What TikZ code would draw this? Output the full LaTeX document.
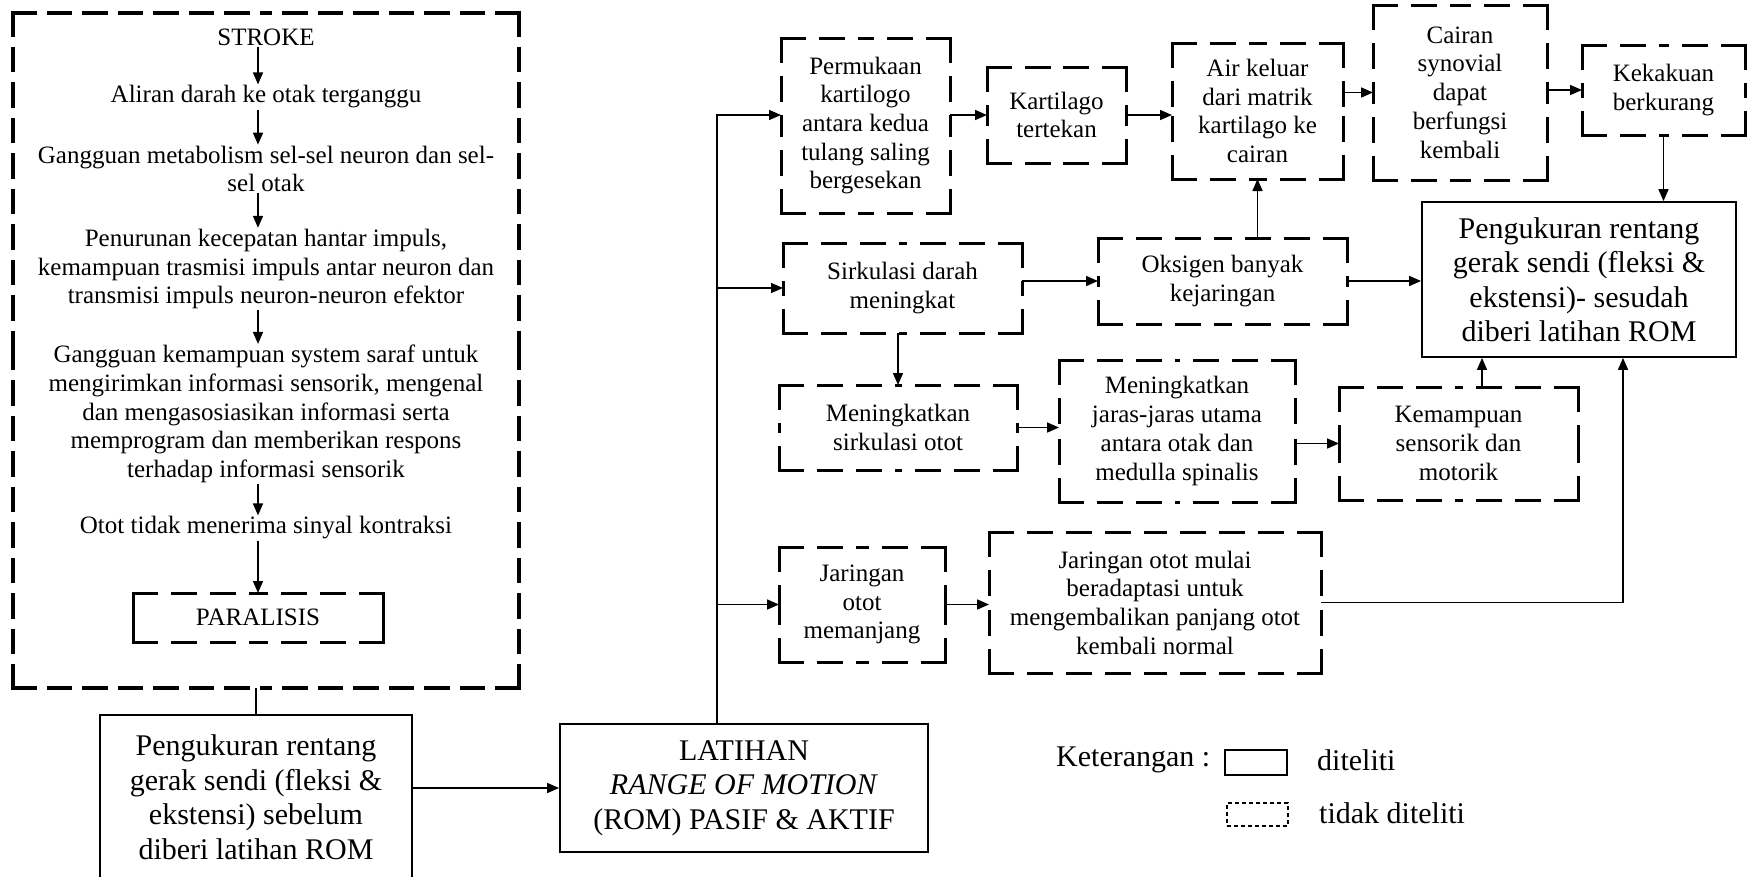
\documentclass[tikz,border=0pt]{standalone}
\usepackage{fontspec}
\setmainfont{Liberation Serif}
\usetikzlibrary{arrows.meta}
\tikzset{
  sm/.style={font=\fontsize{25}{28.7}\selectfont, align=center, inner sep=1pt},
  lg/.style={font=\fontsize{30}{34.5}\selectfont, align=center, inner sep=1pt},
  dbox/.style={sm, outer sep=0pt},
  dsty/.style={line width=3pt, dash pattern=on 23pt off 16pt, line cap=rect},
  bsty/.style={line width=3.5pt, dash pattern=on 22pt off 13.5pt, line cap=rect},
  sbox/.style={lg, draw, line width=1.8pt},
  conn/.style={draw, line width=1.6pt},
  arr/.style={conn, -{Triangle[length=12pt,width=10pt]}}
}
\begin{document}
\begin{tikzpicture}[x=1pt,y=-1pt]
\useasboundingbox (0,0) rectangle (1751,876);
\fill[white] (0,0) rectangle (1751,876);
% left container
\node[dbox, minimum width=506pt, minimum height=675pt, inner sep=0pt] (big) at (266,350.5) {};
\node[sm] (stroke) at (266,37) {STROKE};
\node[sm] (aliran) at (266,97) {Aliran darah ke otak terganggu};
\node[sm] (metab) at (266,169) {Gangguan metabolism sel-sel neuron dan sel-\\sel otak};
\node[sm] (penur) at (266,269) {Penurunan kecepatan hantar impuls,\\kemampuan trasmisi impuls antar neuron dan\\transmisi impuls neuron-neuron efektor};
\node[sm] (gangk) at (266,414) {Gangguan kemampuan system saraf untuk\\mengirimkan informasi sensorik, mengenal\\dan mengasosiasikan informasi serta\\memprogram dan memberikan respons\\terhadap informasi sensorik};
\node[sm] (otot) at (266,528) {Otot tidak menerima sinyal kontraksi};
\node[dbox, minimum width=250pt, minimum height=49pt] (para) at (258,617.5) {PARALISIS};
\draw[arr] (stroke.south -| para.north) -- (aliran.north -| para.north);
\draw[arr] (aliran.south -| para.north) -- (metab.north -| para.north);
\draw[arr] (metab.south -| para.north) -- (penur.north -| para.north);
\draw[arr] (penur.south -| para.north) -- (gangk.north -| para.north);
\draw[arr] (gangk.south -| para.north) -- (otot.north -| para.north);
\draw[arr] (otot.south -| para.north) -- (para.north);
% bottom row
\node[sbox, minimum width=312pt, minimum height=164pt] (seb) at (256,797) {Pengukuran rentang\\gerak sendi (fleksi \&\\ekstensi) sebelum\\diberi latihan ROM};
\draw[conn] (big.south -| seb.north) -- (seb.north);
\node[sbox, minimum width=368pt, minimum height=128pt] (lat) at (744,788) {LATIHAN\\\textit{RANGE OF MOTION}\\(ROM) PASIF \& AKTIF};
\draw[arr] (seb.east |- lat.west) -- (lat.west);
% right region boxes
\node[dbox, minimum width=169pt, minimum height=175pt] (perm) at (865.5,125.5) {Permukaan\\kartilogo\\antara kedua\\tulang saling\\bergesekan};
\node[dbox, minimum width=139pt, minimum height=96pt] (kart) at (1056.5,115) {Kartilago\\tertekan};
\node[dbox, minimum width=171pt, minimum height=136pt] (air) at (1257.5,111) {Air keluar\\dari matrik\\kartilago ke\\cairan};
\node[dbox, minimum width=174pt, minimum height=175pt] (cair) at (1460,92.5) {Cairan\\synovial\\dapat\\berfungsi\\kembali};
\node[dbox, minimum width=163pt, minimum height=90pt] (kek) at (1663.5,90) {Kekakuan\\berkurang};
\node[sbox, minimum width=314pt, minimum height=155pt] (ses) at (1579,279.5) {Pengukuran rentang\\gerak sendi (fleksi \&\\ekstensi)- sesudah\\diberi latihan ROM};
\node[dbox, minimum width=239pt, minimum height=90pt] (sirk) at (902.5,288) {Sirkulasi darah\\meningkat};
\node[dbox, minimum width=249pt, minimum height=86pt] (oks) at (1222.5,281) {Oksigen banyak\\kejaringan};
\node[dbox, minimum width=238pt, minimum height=85pt] (msirk) at (898,427.5) {Meningkatkan\\sirkulasi otot};
\node[dbox, minimum width=236pt, minimum height=142pt] (jaras) at (1177,431) {Meningkatkan\\jaras-jaras utama\\antara otak dan\\medulla spinalis};
\node[dbox, minimum width=239pt, minimum height=113pt] (kem) at (1458.5,443.5) {Kemampuan\\sensorik dan\\motorik};
\node[dbox, minimum width=166pt, minimum height=115pt] (mem) at (862,604.5) {Jaringan\\otot\\memanjang};
\node[dbox, minimum width=332pt, minimum height=141pt] (mulai) at (1155,602.5) {Jaringan otot mulai\\beradaptasi untuk\\mengembalikan panjang otot\\kembali normal};
% dashed outlines, each dash run starting at a corner
\draw[bsty] (big.north west) -- (big.north) (big.north east) -- (big.north)
  (big.north east) -- (big.east) (big.south east) -- (big.east)
  (big.south east) -- (big.south) (big.south west) -- (big.south)
  (big.south west) -- (big.west) (big.north west) -- (big.west);
\foreach \n in {para,perm,kart,air,cair,kek,sirk,oks,msirk,jaras,kem,mem,mulai}{
  \draw[dsty] (\n.north west) -- (\n.north) (\n.north east) -- (\n.north)
    (\n.north east) -- (\n.east) (\n.south east) -- (\n.east)
    (\n.south east) -- (\n.south) (\n.south west) -- (\n.south)
    (\n.south west) -- (\n.west) (\n.north west) -- (\n.west);
}
% trunk and branches
\coordinate (tt) at (717,115);
\draw[arr] (lat.north -| tt) -- (tt) -- (tt -| perm.west);
\draw[arr] (tt |- sirk.west) -- (sirk.west);
\draw[arr] (tt |- mem.west) -- (mem.west);
% top chain
\draw[arr] (perm.east |- kart.west) -- (kart.west);
\draw[arr] (kart.east) -- (kart.east -| air.west);
\draw[arr] (air.east |- cair.west) -- (cair.west);
\draw[arr] (cair.east |- kek.west) -- (kek.west);
\draw[arr] (kek.south) -- (kek.south |- ses.north);
% middle
\draw[arr] (sirk.east |- oks.west) -- (oks.west);
\draw[arr] (air.south |- oks.north) -- (air.south);
\draw[arr] (oks.east) -- (oks.east -| ses.west);
\draw[arr] (sirk.south -| msirk.north) -- (msirk.north);
\draw[arr] (msirk.east) -- (msirk.east -| jaras.west);
\draw[arr] (jaras.east |- kem.west) -- (kem.west);
\coordinate (kemup) at ([xshift=23.5pt]kem.north);
\draw[arr] (kemup) -- (kemup |- ses.south);
\draw[arr] (mem.east) -- (mem.east -| mulai.west);
\coordinate (mulup) at ([xshift=44pt]ses.south);
\draw[arr] (mulai.east) -| (mulup);
% legend
\node[lg, anchor=west] (ket) at (1055,760) {Keterangan :};
\node[draw, line width=1.8pt, minimum width=62pt, minimum height=25pt, inner sep=0pt] (lsol) at (1256,762.5) {};
\node[lg, anchor=west] (lt1) at (1316,760) {diteliti};
\node[draw, line width=1.2pt, dash pattern=on 4pt off 3pt, minimum width=61pt, minimum height=23pt, inner sep=0pt] (ldash) at (1257.5,814.5) {};
\node[lg, anchor=west] (lt2) at (1318,813) {tidak diteliti};
\end{tikzpicture}
\end{document}
